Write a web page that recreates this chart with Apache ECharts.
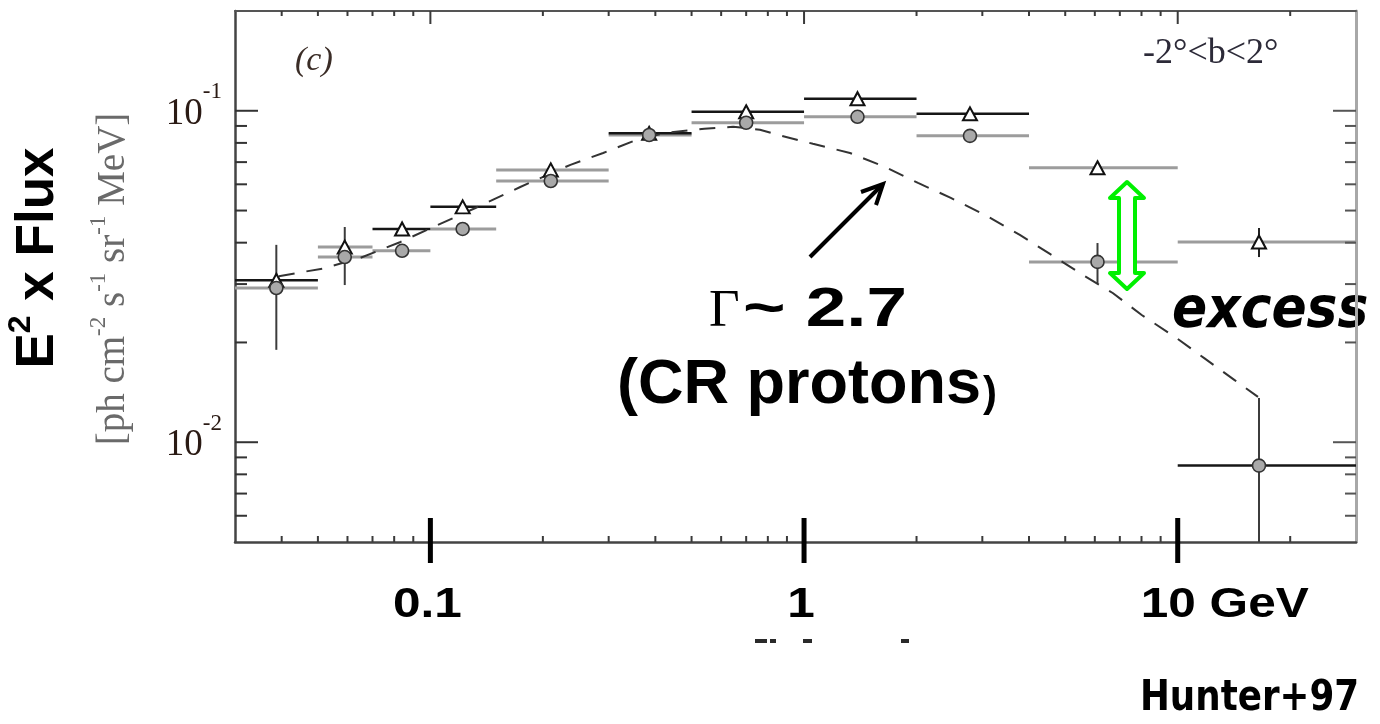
<!DOCTYPE html>
<html>
<head>
<meta charset="utf-8">
<script src="https://cdn.jsdelivr.net/npm/echarts@6/dist/echarts.min.js"></script>
<style>
  html, body { margin: 0; padding: 0; background: #ffffff; }
  #chart { width: 1380px; height: 724px; }
</style>
</head>
<body>
<div id="chart"></div>
<script>
// ---- Energy bins (GeV) ----
const binLow    = [0.03, 0.05, 0.07, 0.10, 0.15, 0.30, 0.50, 1, 2, 4, 10];
const binHigh   = [0.05, 0.07, 0.10, 0.15, 0.30, 0.50, 1, 2, 4, 10, 30];
const binEnergy = [0.0387, 0.059, 0.084, 0.122, 0.21, 0.385, 0.70, 1.39, 2.78, 6.1, 16.5];

// ---- Triangle points: E^2 x flux ----
const triFlux    = [0.0308, 0.0388, 0.0440, 0.0513, 0.0663, 0.0855, 0.0993, 0.1087, 0.0979, 0.0673, 0.0402];
const triErrLow  = [null, null, null, null, null, null, null, null, null, null, 0.0362];
const triErrHigh = [null, null, null, null, null, null, null, null, null, null, 0.0443];
const triBinDark = [1, 0, 1, 1, 0, 1, 1, 1, 1, 0, 0];

// ---- Circle points: E^2 x flux ----
const circFlux    = [0.0292, 0.0362, 0.0378, 0.0440, 0.0614, 0.0845, 0.0920, 0.0959, 0.0840, 0.0350, 0.0085];
const circErrLow  = [0.0190, 0.0298, null, null, null, null, null, null, null, 0.0302, 0.0050];
const circErrHigh = [0.0394, 0.0446, null, null, null, null, null, null, null, 0.0399, 0.0136];
const circBinDark = [0, 0, 0, 0, 0, 0, 0, 0, 0, 0, 1];

// ---- Cosmic-ray proton (pion decay) model curve ----
const modelEnergy = [0.0393, 0.0514, 0.065, 0.0832, 0.1019, 0.132, 0.174, 0.237, 0.290, 0.357,
                     0.430, 0.541, 0.646, 0.762, 0.851, 1.056, 1.327, 1.647, 2.018, 2.47,
                     3.05, 3.78, 4.55, 5.57, 6.70, 8.01, 9.82, 11.8, 14.2, 16.4];
const modelFlux   = [0.0317, 0.0334, 0.0360, 0.0402, 0.0446, 0.0509, 0.0589, 0.0687, 0.0746, 0.0818,
                     0.0859, 0.0883, 0.0895, 0.0877, 0.0846, 0.0795, 0.0746, 0.0677, 0.0606, 0.0546,
                     0.0485, 0.0422, 0.0370, 0.0320, 0.0282, 0.0242, 0.0208, 0.0179, 0.0154, 0.0137];

// ---- Axis ranges and ticks ----
const X_MIN = 0.03, X_MAX = 30;
const Y_MIN = 0.005, Y_MAX = 0.2;
const xMajorTicks = [0.1, 1, 10];
const xMinorTicks = [0.04, 0.05, 0.06, 0.07, 0.08, 0.09, 0.2, 0.3, 0.4, 0.5, 0.6, 0.7, 0.8, 0.9,
                     2, 3, 4, 5, 6, 7, 8, 9, 20];
const yMajorTicks = [0.01, 0.1];
const yMinorTicks = [0.006, 0.007, 0.008, 0.009, 0.02, 0.03, 0.04, 0.05, 0.06, 0.07, 0.08, 0.09];
const xTickLabels = ['0.1', '1', '10 GeV'];
const yTickExponents = ['-2', '-1'];

const chart = echarts.init(document.getElementById('chart'), null, { renderer: 'canvas' });

const DARK = '#161616', GREY = '#9c9c9c';

function binRows(flux, darkFlags, wantDark) {
  const rows = [];
  for (let i = 0; i < flux.length; i++) {
    if (!!darkFlags[i] === wantDark) rows.push([binLow[i], binHigh[i], flux[i]]);
  }
  return rows;
}
function errRows(lo, hi) {
  const rows = [];
  for (let i = 0; i < lo.length; i++) {
    if (lo[i] != null) rows.push([binEnergy[i], lo[i], hi[i]]);
  }
  return rows;
}

function binSeries(rows, color, width) {
  return {
    type: 'custom', silent: true, z: 3,
    encode: { x: [0, 1], y: 2 },
    data: rows,
    renderItem: (params, api) => {
      const a = api.coord([api.value(0), api.value(2)]);
      const b = api.coord([api.value(1), api.value(2)]);
      return { type: 'line', shape: { x1: a[0], y1: a[1], x2: b[0], y2: b[1] },
               style: { stroke: color, lineWidth: width } };
    }
  };
}
function errSeries(rows, color, width) {
  return {
    type: 'custom', silent: true, z: 4,
    encode: { x: 0, y: [1, 2] },
    data: rows,
    renderItem: (params, api) => {
      const a = api.coord([api.value(0), api.value(1)]);
      const b = api.coord([api.value(0), api.value(2)]);
      return { type: 'line', shape: { x1: a[0], y1: a[1], x2: b[0], y2: b[1] },
               style: { stroke: color, lineWidth: width } };
    }
  };
}

// Frame ticks: x ticks on bottom and top edges, y ticks on left and right edges
function xTickSeries(values, lenBottom, lenTop) {
  return {
    type: 'custom', silent: true, z: 6,
    encode: { x: 0, y: 1 },
    data: values.map(v => [v, Y_MIN]),
    renderItem: (params, api) => {
      const b = api.coord([api.value(0), Y_MIN]);
      const t = api.coord([api.value(0), Y_MAX]);
      return { type: 'group', children: [
        { type: 'line', shape: { x1: b[0], y1: b[1], x2: b[0], y2: b[1] - lenBottom }, style: { stroke: '#3a3a3a', lineWidth: 2 } },
        { type: 'line', shape: { x1: t[0], y1: t[1], x2: t[0], y2: t[1] + lenTop }, style: { stroke: '#3a3a3a', lineWidth: 2 } }
      ] };
    }
  };
}
function yTickSeries(values, lenLeft, lenRight) {
  return {
    type: 'custom', silent: true, z: 6,
    encode: { x: 0, y: 1 },
    data: values.map(v => [X_MIN, v]),
    renderItem: (params, api) => {
      const l = api.coord([X_MIN, api.value(1)]);
      const r = api.coord([X_MAX, api.value(1)]);
      return { type: 'group', children: [
        { type: 'line', shape: { x1: l[0], y1: l[1], x2: l[0] + lenLeft, y2: l[1] }, style: { stroke: '#333', lineWidth: 2 } },
        { type: 'line', shape: { x1: r[0], y1: r[1], x2: r[0] - lenRight, y2: r[1] }, style: { stroke: '#555', lineWidth: 2 } }
      ] };
    }
  };
}
// Heavy guide ticks crossing the bottom axis at each decade
const guideTickSeries = {
  type: 'custom', silent: true, z: 8,
  encode: { x: 0, y: 1 },
  data: xMajorTicks.map(v => [v, Y_MIN]),
  renderItem: (params, api) => {
    const b = api.coord([api.value(0), Y_MIN]);
    return { type: 'rect', shape: { x: b[0] - 2.5, y: b[1] - 24, width: 5, height: 45 }, style: { fill: '#000' } };
  }
};

const hiddenAxis = {
  axisTick: { show: false }, axisLabel: { show: false },
  splitLine: { show: false }, minorTick: { show: false }, minorSplitLine: { show: false }
};

chart.setOption({
  animation: false,
  backgroundColor: '#ffffff',
  grid: { left: 235, top: 11, width: 1121, height: 531, containLabel: false },
  xAxis: [
    Object.assign({ type: 'log', logBase: 10, min: X_MIN, max: X_MAX, position: 'bottom',
      axisLine: { show: true, lineStyle: { color: '#444', width: 2.5 } } }, hiddenAxis),
    Object.assign({ type: 'log', logBase: 10, min: X_MIN, max: X_MAX, position: 'top',
      axisLine: { show: true, lineStyle: { color: '#555', width: 2 } } }, hiddenAxis)
  ],
  yAxis: [
    Object.assign({ type: 'log', logBase: 10, min: Y_MIN, max: Y_MAX, position: 'left',
      axisLine: { show: true, lineStyle: { color: '#444', width: 2.5 } } }, hiddenAxis),
    Object.assign({ type: 'log', logBase: 10, min: Y_MIN, max: Y_MAX, position: 'right',
      axisLine: { show: true, lineStyle: { color: '#a8a8a8', width: 3 } } }, hiddenAxis)
  ],
  series: [
    xTickSeries(xMinorTicks, 6, 5),
    xTickSeries(xMajorTicks, 13, 13),
    yTickSeries(yMinorTicks, 12, 11),
    yTickSeries(yMajorTicks, 23, 23),
    binSeries(binRows(circFlux, circBinDark, false), GREY, 3),
    binSeries(binRows(triFlux, triBinDark, false), GREY, 3),
    binSeries(binRows(triFlux, triBinDark, true), DARK, 2.5),
    binSeries(binRows(circFlux, circBinDark, true), DARK, 2.5),
    errSeries(errRows(circErrLow, circErrHigh), '#3c3c3c', 2),
    errSeries(errRows(triErrLow, triErrHigh), '#222', 2),
    {
      type: 'line', silent: true, z: 5, showSymbol: false, smooth: false,
      data: modelEnergy.map((e, i) => [e, modelFlux[i]]),
      lineStyle: { color: '#333', width: 2, type: [16, 12] }
    },
    {
      type: 'scatter', silent: true, z: 7, symbol: 'triangle', symbolSize: [14, 13],
      data: binEnergy.map((e, i) => [e, triFlux[i]]),
      itemStyle: { color: '#ffffff', borderColor: '#111', borderWidth: 2, opacity: 1 }
    },
    {
      type: 'scatter', silent: true, z: 7, symbol: 'circle', symbolSize: 13,
      data: binEnergy.map((e, i) => [e, circFlux[i]]),
      itemStyle: { color: '#a9a9a9', borderColor: '#333', borderWidth: 1.6, opacity: 1 }
    },
    guideTickSeries
  ]
});

// ---- Text and annotations placed from the axis scales ----
const px = (x, y) => chart.convertToPixel({ xAxisIndex: 0, yAxisIndex: 0 }, [x, y]);
const axisBottom = px(X_MIN, Y_MIN)[1];

const graphics = [];

// y tick labels 10^-2, 10^-1
yMajorTicks.forEach((v, i) => {
  const p = px(X_MIN, v);
  graphics.push({
    type: 'text', x: 222, y: p[1] - 4,
    style: {
      text: '{b|10}{s|' + yTickExponents[i] + '}',
      align: 'right', verticalAlign: 'middle',
      fill: '#2a1a14',
      rich: {
        b: { fontFamily: 'Liberation Serif', fontSize: 37, fill: '#2a1a14', lineHeight: 52, verticalAlign: 'bottom' },
        s: { fontFamily: 'Liberation Serif', fontSize: 23, fill: '#2a1a14', lineHeight: 24, verticalAlign: 'top' }
      }
    }
  });
});

// x tick labels under the heavy guide ticks
xMajorTicks.forEach((v, i) => {
  const p = px(v, Y_MIN);
  const last = i === xMajorTicks.length - 1;
  graphics.push({
    type: 'text', x: last ? p[0] - 37 : p[0] - 3, y: axisBottom + 63, scaleX: 1.18,
    style: {
      text: xTickLabels[i], align: last ? 'left' : 'center', verticalAlign: 'middle',
      fontFamily: 'Liberation Sans', fontWeight: 'bold', fontSize: 42, fill: '#000'
    }
  });
});

// Axis titles (rotated)
graphics.push({
  type: 'text', x: 35, y: 258, rotation: Math.PI / 2,
  style: {
    text: '{b|E}{s|2}{b| x Flux}', align: 'center', verticalAlign: 'middle',
    rich: {
      b: { fontFamily: 'Liberation Sans', fontWeight: 'bold', fontSize: 53, fill: '#000', lineHeight: 60, verticalAlign: 'bottom' },
      s: { fontFamily: 'Liberation Sans', fontWeight: 'bold', fontSize: 32, fill: '#000', lineHeight: 34, verticalAlign: 'top' }
    }
  }
});
graphics.push({
  type: 'text', x: 110, y: 279, rotation: Math.PI / 2,
  style: {
    text: '{n|[ph cm}{s|-2}{n| s}{s|-1}{n| sr}{s|-1}{n| MeV]}', align: 'center', verticalAlign: 'middle',
    rich: {
      n: { fontFamily: 'Liberation Serif', fontSize: 39, fill: '#6a6a6a', lineHeight: 46, verticalAlign: 'bottom' },
      s: { fontFamily: 'Liberation Serif', fontSize: 23, fill: '#6a6a6a', lineHeight: 24, verticalAlign: 'top' }
    }
  }
});

// Panel tags
graphics.push({
  type: 'text', x: 295, y: 61,
  style: { text: '(c)', fontFamily: 'Liberation Serif', fontStyle: 'italic', fontSize: 34, fill: '#3a2c26',
           align: 'left', verticalAlign: 'middle' }
});
graphics.push({
  type: 'text', x: 1143, y: 54,
  style: { text: '-2°<b<2°', fontFamily: 'Liberation Serif', fontSize: 36, fill: '#2c2a38',
           align: 'left', verticalAlign: 'middle' }
});

// Spectral-index callout
graphics.push({
  type: 'text', x: 709, y: 312,
  style: { text: 'Γ', fontFamily: 'Liberation Serif', fontSize: 53, fill: '#000', align: 'left', verticalAlign: 'middle' }
});
graphics.push({
  type: 'text', x: 743, y: 311, scaleX: 1.3,
  style: { text: '~ 2.7', fontFamily: 'Liberation Sans', fontWeight: 'bold', fontSize: 56, fill: '#000',
           align: 'left', verticalAlign: 'middle' }
});
graphics.push({
  type: 'text', x: 617, y: 386,
  style: { text: '(CR protons', fontFamily: 'Liberation Sans', fontWeight: 'bold', fontSize: 63, fill: '#000',
           align: 'left', verticalAlign: 'middle' }
});
graphics.push({
  type: 'text', x: 983, y: 394,
  style: { text: ')', fontFamily: 'Liberation Sans', fontWeight: 'bold', fontSize: 42, fill: '#000',
           align: 'left', verticalAlign: 'middle' }
});
// Arrow pointing at the model curve
graphics.push({
  type: 'polyline', shape: { points: [[810, 257], [881, 186]] },
  style: { stroke: '#000', lineWidth: 4, lineCap: 'butt' }
});
graphics.push({
  type: 'polyline', shape: { points: [[861, 192], [883, 184], [876, 205]] },
  style: { stroke: '#000', lineWidth: 4, fill: null, lineJoin: 'miter', lineCap: 'butt' }
});

// Excess marker: hollow green double arrow
graphics.push({
  type: 'polygon', z: 20,
  shape: { points: [[1127, 182], [1144, 198], [1135, 198], [1135, 273], [1144, 273], [1127, 289],
                    [1110, 273], [1119, 273], [1119, 198], [1110, 198]] },
  style: { fill: '#ffffff', stroke: '#00f000', lineWidth: 4, lineJoin: 'round' }
});
graphics.push({
  type: 'text', x: 1172, y: 312, scaleX: 0.91,
  style: { text: 'excess', fontFamily: 'DejaVu Sans', fontWeight: 'bold', fontStyle: 'italic', fontSize: 57,
           fill: '#000', align: 'left', verticalAlign: 'middle' }
});
graphics.push({
  type: 'text', x: 1140, y: 699, scaleX: 0.83,
  style: { text: 'Hunter+97', fontFamily: 'DejaVu Sans', fontWeight: 'bold', fontSize: 43,
           fill: '#000', align: 'left', verticalAlign: 'middle' }
});
// Remnants of a clipped caption line below the axis
[[755, 639, 12, 4], [770, 639, 6, 4], [803, 639, 9, 4], [901, 639, 8, 4]].forEach(r => {
  graphics.push({ type: 'rect', shape: { x: r[0], y: r[1], width: r[2], height: r[3] }, style: { fill: '#2a2a2a' } });
});

chart.setOption({ graphic: graphics });
</script>
</body>
</html>
